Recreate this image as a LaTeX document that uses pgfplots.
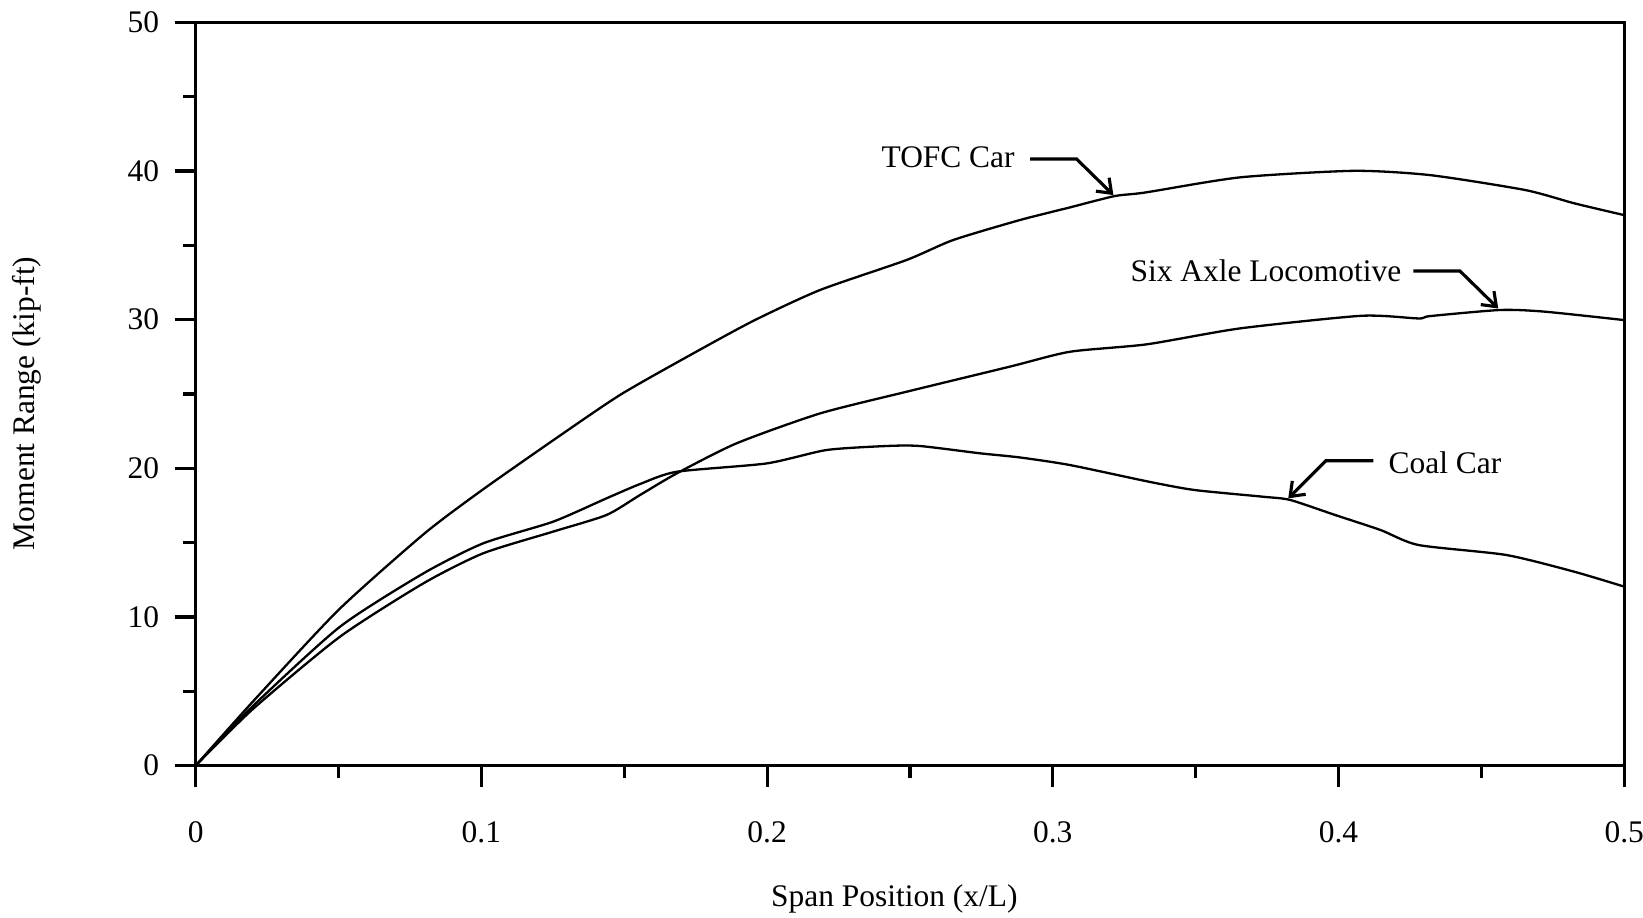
\documentclass[border=0pt]{standalone}
\usepackage{fontspec}
\setmainfont{Liberation Serif}
\usepackage{pgfplots}
\pgfplotsset{compat=1.18}
\usetikzlibrary{arrows.meta}

% span position x/L vs moment range (kip-ft)
\pgfplotstableread{
x y
0 0
0.02 4.3
0.05 10.47
0.08 15.6
0.10 18.5
0.126 22.0
0.1485 24.93
0.172 27.5
0.195 29.9
0.2185 31.99
0.2488 34.01
0.2652 35.36
0.2885 36.70
0.306 37.55
0.3216 38.31
0.3323 38.55
0.3655 39.57
0.4054 40.01
0.4321 39.72
0.4653 38.72
0.4826 37.82
0.5 37.03
}\tofc

\pgfplotstableread{
x y
0 0
0.02 3.8
0.0505 8.67
0.0797 12.26
0.1006 14.28
0.1251 15.74
0.1438 16.86
0.1555 18.20
0.1684 19.66
0.1893 21.68
0.2185 23.69
0.2488 25.15
0.285 26.84
0.306 27.84
0.3329 28.34
0.3655 29.41
0.4081 30.26
0.428 30.08
0.4321 30.24
0.4567 30.65
0.472 30.54
0.5 29.97
}\sixaxle

\pgfplotstableread{
x y
0 0
0.02 4.0
0.0505 9.34
0.0797 12.93
0.1006 14.95
0.1251 16.41
0.1438 17.98
0.1555 18.94
0.1684 19.77
0.1999 20.33
0.2208 21.23
0.2418 21.50
0.2535 21.50
0.2745 21.01
0.2885 20.73
0.306 20.22
0.3336 19.10
0.3496 18.54
0.3735 18.09
0.3831 17.87
0.3988 16.86
0.4147 15.85
0.428 14.84
0.4587 14.17
0.4826 13.04
0.5 12.04
}\coal

\begin{document}
\begin{tikzpicture}[font=\fontsize{15}{18}\selectfont]
  \useasboundingbox (-93.35pt,-72.65pt) rectangle (690.65pt,365.35pt);
  \begin{axis}[
    at={(0,0)}, anchor=south west,
    scale only axis,
    width=681.7pt, height=354.7pt,
    font=\fontsize{15}{18}\selectfont,
    xmin=0, xmax=0.5, ymin=0, ymax=50,
    xtick={0,0.1,...,0.5},
    ytick={0,10,...,50},
    minor x tick num=1,
    minor y tick num=1,
    tick pos=left,
    tick align=outside,
    major tick length=10pt,
    minor tick length=6pt,
    every tick/.style={black, line width=1.5pt},
    axis line style={line width=1.6pt},
    xticklabel shift=13pt,
    yticklabel shift=3.9pt,
    /pgf/number format/assume math mode=true,
    xticklabel style={/pgf/number format/fixed},
    xlabel={Span Position (x/L)},
    xlabel style={at={(axis description cs:0.4891,-0.1795)}, anchor=center},
    ylabel={Moment Range (kip-ft)},
    ylabel style={at={(axis description cs:-0.1179,0.4873)}, anchor=center},
    clip=false,
  ]
    \addplot[black, line width=1.1pt, smooth, tension=0.4] table {\tofc};
    \addplot[black, line width=1.1pt, smooth, tension=0.4] table {\sixaxle};
    \addplot[black, line width=1.1pt, smooth, tension=0.4] table {\coal};

    \node[anchor=base east, inner sep=0pt] at (axis cs:0.2868,40.24) {TOFC Car};
    \draw[line width=1.5pt, -{Straight Barb[length=6pt, width=9pt]}]
      (axis cs:0.2921,40.81) -- (axis cs:0.3083,40.81) -- (axis cs:0.3212,38.38);

    \node[anchor=base east, inner sep=0pt] at (axis cs:0.4221,32.55) {Six Axle Locomotive};
    \draw[line width=1.5pt, -{Straight Barb[length=6pt, width=9pt]}]
      (axis cs:0.4262,33.27) -- (axis cs:0.4425,33.27) -- (axis cs:0.4559,30.75);

    \node[anchor=base west, inner sep=0pt] at (axis cs:0.4174,19.66) {Coal Car};
    \draw[line width=1.5pt, -{Straight Barb[length=6pt, width=9pt]}]
      (axis cs:0.4122,20.51) -- (axis cs:0.3956,20.51) -- (axis cs:0.3824,17.98);
  \end{axis}
\end{tikzpicture}
\end{document}
